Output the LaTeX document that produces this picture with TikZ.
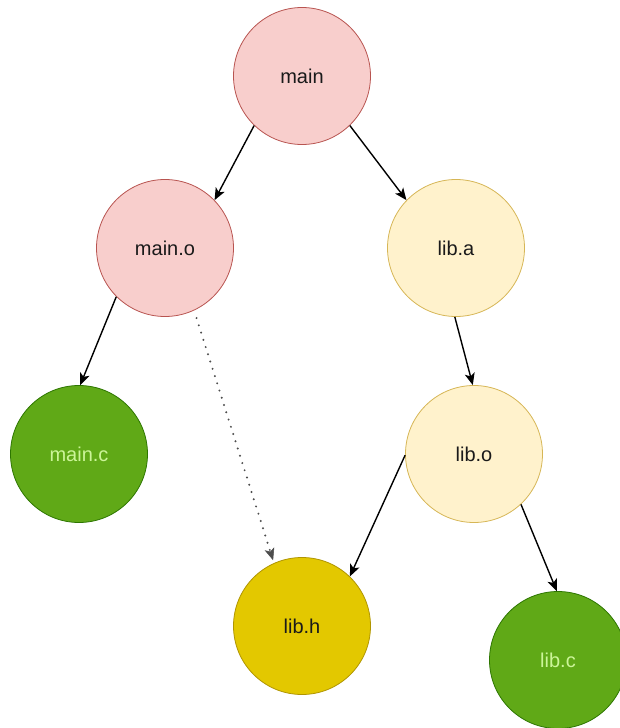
\documentclass[tikz,border=0pt]{standalone}
\usepackage{fontspec}
\setmainfont{Liberation Sans}
\usetikzlibrary{arrows.meta}

\definecolor{pinkfill}{HTML}{F8CECC}
\definecolor{pinkline}{HTML}{B85450}
\definecolor{creamfill}{HTML}{FFF2CC}
\definecolor{creamline}{HTML}{D6B656}
\definecolor{greenfill}{HTML}{60A917}
\definecolor{greenline}{HTML}{2D7600}
\definecolor{greentext}{HTML}{CCF599}
\definecolor{yellowfill}{HTML}{E3C800}
\definecolor{yellowline}{HTML}{B09500}
\definecolor{darktext}{HTML}{1A1A1A}
\definecolor{dotgrey}{HTML}{4D4D4D}

\tikzset{
  blob/.style={circle, minimum size=137pt, inner sep=0pt, line width=0.8pt,
    font=\fontsize{20}{24}\selectfont, text=darktext},
  objfile/.style={blob, fill=pinkfill, draw=pinkline},
  libfile/.style={blob, fill=creamfill, draw=creamline},
  srcfile/.style={blob, fill=greenfill, draw=greenline, text=greentext},
  hdrfile/.style={blob, fill=yellowfill, draw=yellowline},
  dep/.style={line width=1.4pt, draw=black,
    -{Stealth[length=12pt, width=10pt, inset=3pt]}},
  incl/.style={line width=2.2pt, draw=dotgrey, line cap=round,
    dash pattern=on 0pt off 7.6pt,
    -{Stealth[length=12pt, width=10pt, inset=3pt, fill=dotgrey, line width=0.5pt]}}
}

\begin{document}
\begin{tikzpicture}[x=1pt, y=-1pt]
  \useasboundingbox (0,0) rectangle (619,728);

  % build targets and sources
  \node[objfile] (main)  at (302,76)  {main};
  \node[objfile] (mainO) at (165,248) {main.o};
  \node[libfile] (libA)  at (456,248) {lib.a};
  \node[srcfile] (mainC) at (79,454)  {main.c};
  \node[libfile] (libO)  at (474,454) {lib.o};
  \node[hdrfile] (libH)  at (302,626) {lib.h};
  \node[srcfile] (libC)  at (558,660) {lib.c};

  % dependency edges
  \draw[dep] (main.-134) -- (mainO.44);
  \draw[dep] (main.-46)  -- (libA.136);
  \draw[dep] (mainO.-135) -- (mainC.89);
  \draw[dep] (libA.-91) -- (libO.91);
  \draw[dep] (libO.-179) -- (libH.46);
  \draw[dep] (libO.-47) -- (libC.91);

  % header include
  \draw[incl, shorten <=8pt, shorten >=3pt] (mainO.-65) -- (libH.114);
\end{tikzpicture}
\end{document}
